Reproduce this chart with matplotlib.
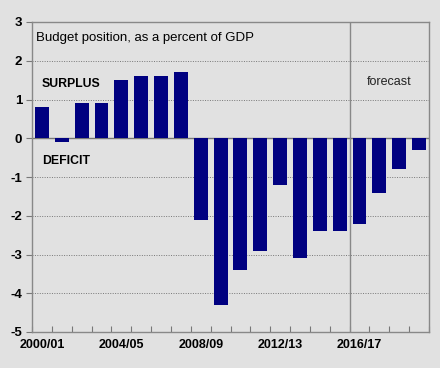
import numpy as np
import matplotlib
matplotlib.use("Agg")
import matplotlib.pyplot as plt

plt.rcParams['font.family'] = ['Liberation Sans', 'DejaVu Sans']
plt.rcParams['axes.unicode_minus'] = False

# --- datos ---
years = ['2000/01', '2001/02', '2002/03', '2003/04', '2004/05', '2005/06', '2006/07',
         '2007/08', '2008/09', '2009/10', '2010/11', '2011/12', '2012/13', '2013/14',
         '2014/15', '2015/16', '2016/17', '2017/18', '2018/19', '2019/20']
balance = [0.8, -0.1, 0.9, 0.9, 1.5, 1.6, 1.6, 1.7, -2.1, -4.3,
           -3.4, -2.9, -1.2, -3.1, -2.4, -2.4, -2.2, -1.4, -0.8, -0.3]
shown_labels = ['2000/01', '2004/05', '2008/09', '2012/13', '2016/17']
forecast_start = '2016/17'

bg = '#e1e1e1'
fig = plt.figure(figsize=(4.4, 3.68), dpi=100, facecolor=bg)
ax = fig.add_axes([32/440, 1 - 332/368, 397/440, 310/368])
ax.set_facecolor(bg)

x = np.arange(len(years))
ax.bar(x, balance, width=0.7, color='#000080', zorder=3)

ax.set_xlim(-0.5, len(years) - 0.5)
ax.set_ylim(-5, 3)
ax.set_yticks(range(-5, 4))
ax.yaxis.grid(True, linestyle=(0, (1, 1.5)), color='#777777', lw=0.7, zorder=0)
ax.axhline(0, color='#777777', lw=1, zorder=2)

# líneas de marca entre categorías
ax.set_xticks(np.arange(len(years) + 1) - 0.5)
ax.set_xticklabels([])
ax.tick_params(axis='x', direction='in', length=4, color='#777777')
ax.set_xticks([years.index(l) for l in shown_labels], minor=True)
ax.set_xticklabels(shown_labels, minor=True)
ax.tick_params(axis='x', which='minor', length=0, pad=5, labelsize=9)
for t in ax.get_xticklabels(minor=True):
    t.set_fontweight('bold')
ax.tick_params(axis='y', length=4, color='#777777', labelsize=9.5, pad=3)
for t in ax.get_yticklabels():
    t.set_fontweight('bold')

for s in ax.spines.values():
    s.set_color('#888888')
    s.set_linewidth(1)

# separador de previsión
ax.axvline(years.index(forecast_start) - 0.5, color='#888888', lw=1, zorder=2)

ax.text(-0.3, 2.6, 'Budget position, as a percent of GDP', fontsize=9.5, va='center')
ax.text(0.0, 1.4, 'SURPLUS', fontsize=8.8, fontweight='bold', va='center')
ax.text(0.0, -0.6, 'DEFICIT', fontsize=8.8, fontweight='bold', va='center')
ax.text(17.5, 1.45, 'forecast', fontsize=9, va='center', ha='center', color='#222222')

fig.savefig('out.png', dpi=100, facecolor=bg)
